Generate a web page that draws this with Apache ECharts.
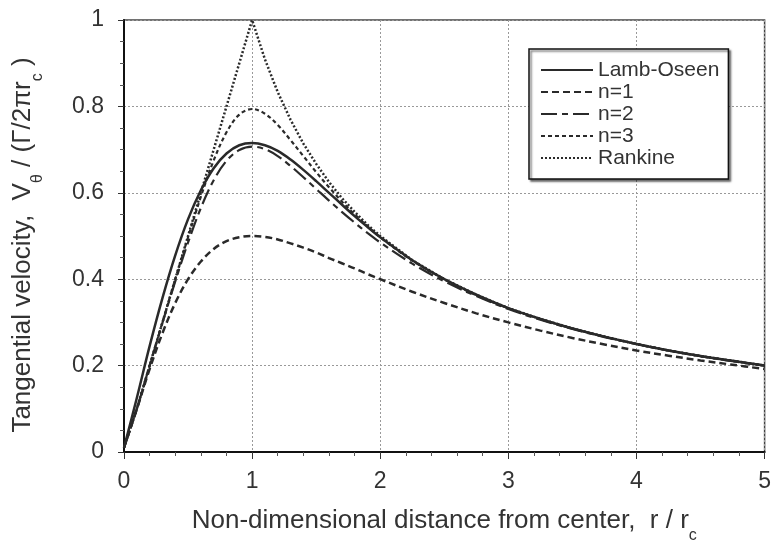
<!DOCTYPE html>
<html>
<head>
<meta charset="utf-8">
<script src="https://cdn.jsdelivr.net/npm/echarts@6/dist/echarts.min.js"></script>
<style>html,body{margin:0;padding:0;background:#fff}#c{width:774px;height:549px}</style>
</head>
<body>
<div id="c"></div>
<script>
const r = [0,0.1,0.2,0.3,0.4,0.5,0.6,0.7,0.8,0.9,1.0,1.1,1.2,1.3,1.4,1.5,1.6,1.7,1.8,1.9,2.0,2.25,2.5,2.75,3.0,3.25,3.5,3.75,4.0,4.25,4.5,4.75,5.0];
const lambOseen = [0.01,0.125,0.245,0.356,0.455,0.539,0.606,0.657,0.691,0.710,0.715,0.710,0.697,0.677,0.653,0.627,0.600,0.573,0.546,0.521,0.497,0.444,0.400,0.364,0.333,0.308,0.286,0.267,0.250,0.235,0.222,0.211,0.200];
const n1 = [0.01,0.099,0.192,0.275,0.345,0.400,0.441,0.470,0.488,0.497,0.500,0.498,0.492,0.483,0.473,0.462,0.449,0.437,0.425,0.412,0.400,0.371,0.345,0.321,0.300,0.281,0.264,0.249,0.235,0.223,0.212,0.202,0.192];
const n2 = [0.01,0.100,0.200,0.299,0.395,0.485,0.565,0.629,0.674,0.699,0.707,0.701,0.685,0.662,0.636,0.609,0.582,0.556,0.531,0.507,0.485,0.436,0.395,0.361,0.331,0.306,0.285,0.266,0.250,0.235,0.222,0.210,0.200];
const n3 = [0.01,0.100,0.200,0.300,0.400,0.497,0.591,0.675,0.740,0.781,0.794,0.783,0.757,0.722,0.685,0.648,0.613,0.580,0.550,0.523,0.497,0.443,0.400,0.363,0.333,0.308,0.286,0.267,0.250,0.235,0.222,0.211,0.200];
const rankine = [0.01,0.1,0.2,0.3,0.4,0.5,0.6,0.7,0.8,0.9,1.0,0.909,0.833,0.769,0.714,0.667,0.625,0.588,0.556,0.526,0.500,0.444,0.400,0.364,0.333,0.308,0.286,0.267,0.250,0.235,0.222,0.211,0.200];
const seriesNames = ['Lamb-Oseen','n=1','n=2','n=3','Rankine'];
const xTicks = [0,1,2,3,4,5];
const yTicks = [0,0.2,0.4,0.6,0.8,1];

const pair = arr => r.map((x,i)=>[x,arr[i]]);
const ink = '#2a2a2a';
const styles = [
  {type:'solid', width:2.5, smooth:true},
  {type:[7,4], width:2.5, smooth:true},
  {type:[16,5,6,5], width:2.2, smooth:true},
  {type:[4,3], width:2.2, smooth:true},
  {type:[2,2], width:2.5, smooth:false}
];
const dataSets = [lambOseen,n1,n2,n3,rankine];
const FONT = 'Liberation Sans, Arial, sans-serif';

const chart = echarts.init(document.getElementById('c'));
chart.setOption({
  animation:false,
  backgroundColor:'#fff',
  textStyle:{fontFamily:FONT},
  grid:{left:124,right:8,top:20,bottom:96,show:true,borderColor:'#444',borderWidth:1.5},
  legend:{
    orient:'vertical', left:529, top:49,
    data:seriesNames,
    backgroundColor:'#fff', borderColor:'#111', borderWidth:1.5,
    shadowColor:'rgba(0,0,0,0.55)', shadowBlur:2, shadowOffsetX:2, shadowOffsetY:2,
    padding:[10,9,10,11],
    itemWidth:52, itemHeight:14, itemGap:0,
    itemStyle:{opacity:0},
    textStyle:{fontSize:21, color:'#333', fontFamily:FONT, lineHeight:22}
  },
  xAxis:{
    type:'value', min:0, max:5, interval:1,
    name:'Non-dimensional distance from center,  r / r{sub|c}',
    nameLocation:'middle', nameGap:46,
    nameTextStyle:{fontSize:26, color:'#333', fontFamily:FONT, rich:{sub:{fontSize:16, color:'#333', padding:[30,0,0,0], fontFamily:FONT}}},
    axisLine:{show:true, onZero:false, lineStyle:{color:'#111', width:2}},
    axisTick:{show:true, inside:false, length:7, lineStyle:{color:'#333'}},
    minorTick:{show:true, splitNumber:5, length:4, lineStyle:{color:'#555'}},
    axisLabel:{fontSize:23, color:'#333', margin:18, fontFamily:FONT},
    splitLine:{show:true, lineStyle:{color:'#999', type:[2,2], width:1}}
  },
  yAxis:{
    type:'value', min:0, max:1, interval:0.2,
    name:'Tangential velocity,  V{sub|θ} / (Γ/2πr{sub|c} )',
    nameLocation:'middle', nameGap:78,
    nameTextStyle:{fontSize:26, color:'#333', fontFamily:FONT, padding:[0,18,0,0], rich:{sub:{fontSize:16, color:'#333', padding:[30,0,0,0], fontFamily:FONT}}},
    axisLine:{show:true, onZero:false, lineStyle:{color:'#111', width:2}},
    axisTick:{show:true, inside:false, length:6, lineStyle:{color:'#333'}},
    minorTick:{show:true, splitNumber:4, length:4, lineStyle:{color:'#555'}},
    axisLabel:{fontSize:23, color:'#333', margin:20, fontFamily:FONT, formatter:v=>String(+v.toFixed(1))},
    splitLine:{show:true, lineStyle:{color:'#999', type:[2,2], width:1}}
  },
  series: seriesNames.map((nm,i)=>({
    name:nm, type:'line', data:pair(dataSets[i]),
    showSymbol:false, symbol:'none', smooth:styles[i].smooth ? 0.35 : false,
    lineStyle:{color:ink, width:styles[i].width, type:styles[i].type},
    itemStyle:{color:ink},
    z: 10-i
  }))
});
</script>
</body>
</html>
